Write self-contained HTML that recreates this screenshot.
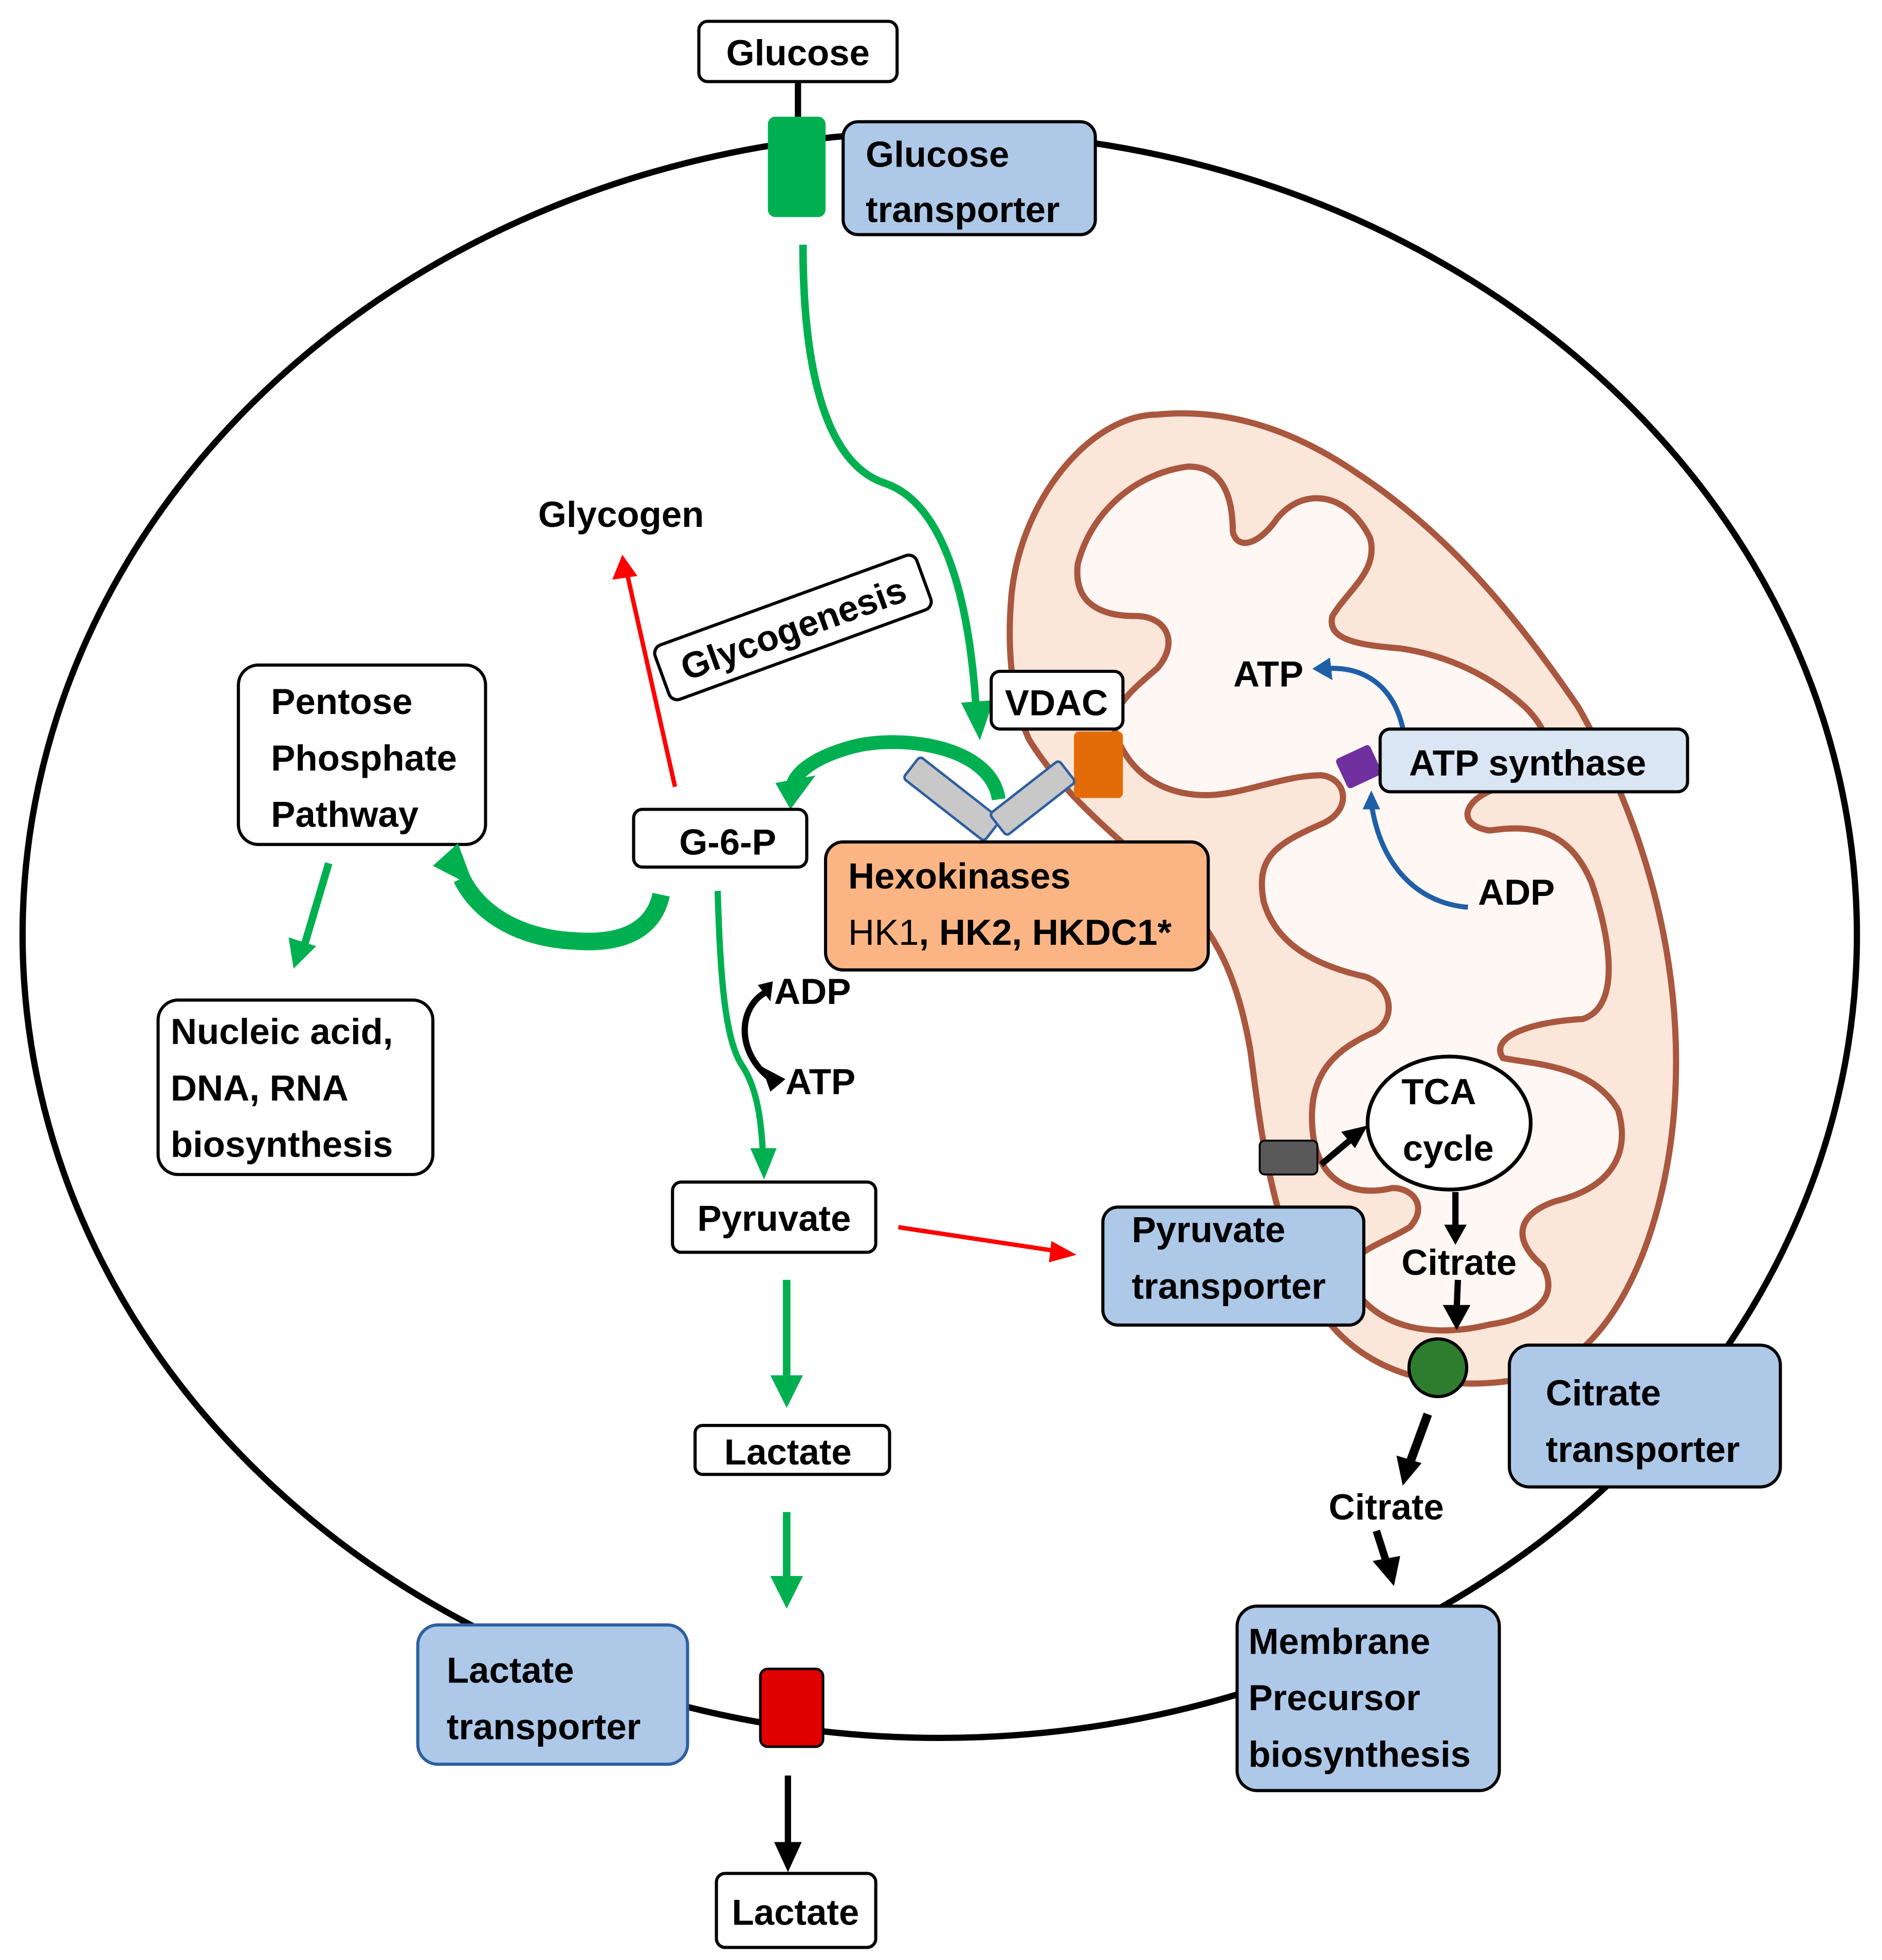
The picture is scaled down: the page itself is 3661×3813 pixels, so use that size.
<!DOCTYPE html>
<html><head><meta charset="utf-8"><style>
html,body{margin:0;padding:0;background:#fff}
svg{display:block}
text{font-family:"Liberation Sans",sans-serif;font-weight:bold;font-size:29px;fill:#000}
</style></head><body>
<svg width="3661" height="3813" viewBox="0 0 1500 1562" preserveAspectRatio="none" xmlns="http://www.w3.org/2000/svg">
<rect width="1500" height="1562" fill="#fff"/>
<!-- cell -->
<ellipse cx="749" cy="745" rx="731" ry="640" fill="none" stroke="#000" stroke-width="5"/>

<!-- mitochondria -->
<g transform="translate(799,320) scale(0.353,0.518)">
<path d="M20,300 C40,150 200,20 350,20 C500,10 650,40 800,110 C1000,200 1150,320 1300,470 C1450,650 1530,850 1520,1050 C1510,1250 1400,1460 1200,1500 C1000,1530 800,1500 700,1380 C600,1250 580,1100 560,1000 C530,880 480,820 400,760 C300,690 150,620 60,520 C20,460 10,380 20,300 Z" fill="#fbe6da" stroke="#a9573f" stroke-width="12" vector-effect="non-scaling-stroke"/>
<path d="M170,250 C200,170 300,110 420,100 C500,100 520,150 520,200 C530,230 580,220 620,180 C680,130 780,140 830,210 C850,260 780,290 745,330 C730,370 820,375 900,380 C1000,390 1100,420 1180,470 C1240,510 1260,560 1150,590 C1050,600 1010,650 1100,660 C1200,650 1280,660 1330,740 C1370,820 1400,930 1310,950 C1180,955 1100,980 1130,1010 C1200,1020 1330,1020 1390,1090 C1420,1160 1370,1210 1250,1230 C1160,1250 1150,1290 1220,1330 C1260,1380 1200,1410 1100,1420 C980,1440 850,1430 790,1360 C760,1310 850,1300 920,1270 C960,1240 930,1210 880,1210 C790,1225 710,1200 700,1120 C690,1040 740,1000 840,970 C890,950 880,900 820,885 C720,870 620,840 590,770 C570,700 620,680 720,650 C790,630 780,580 720,575 C640,575 560,600 480,605 C380,610 290,580 255,510 C240,470 300,440 350,410 C400,370 370,330 300,330 C220,330 160,310 170,250 Z" fill="#fff7f4" stroke="#a9573f" stroke-width="12" vector-effect="non-scaling-stroke"/>
</g>

<!-- glucose -->
<line x1="636" y1="63" x2="636" y2="95" stroke="#000" stroke-width="5"/>
<rect x="557" y="17" width="158" height="48" rx="7" fill="#fff" stroke="#000" stroke-width="2.5"/>
<text x="636" y="52" text-anchor="middle">Glucose</text>
<rect x="612" y="93" width="46" height="80" rx="6" fill="#00b050"/>
<rect x="672" y="97" width="201" height="90" rx="12" fill="#aec8e8" stroke="#000" stroke-width="2.5"/>
<text x="690" y="133">Glucose</text>
<text x="690" y="177">transporter</text>

<!-- green from glucose to VDAC -->
<path d="M640,195 C640,300 660,370 705,385 C750,400 772,470 778,565" fill="none" stroke="#00b050" stroke-width="6"/>
<polygon points="766,560 792,558 781,590" fill="#00b050"/>

<!-- VDAC -->
<rect x="790" y="535" width="105" height="46" rx="7" fill="#fff" stroke="#000" stroke-width="2.5"/>
<text x="842" y="570" text-anchor="middle">VDAC</text>
<rect x="856" y="583" width="39" height="53" rx="4" fill="#e36c09"/>
<g fill="#c8c8c8" stroke="#2e5fa0" stroke-width="2">
<rect x="718" y="625" width="82" height="22" rx="3" transform="rotate(38 758 636)"/>
<rect x="788" y="625" width="70" height="22" rx="3" transform="rotate(-38 823 636)"/>
</g>
<path d="M796,637 C790,595 720,585 680,595 C650,603 635,615 632,625" fill="none" stroke="#00b050" stroke-width="11"/>
<polygon points="618,624 650,618 630,645" fill="#00b050"/>

<!-- Hexokinases -->
<rect x="658" y="671" width="305" height="102" rx="14" fill="#fbb584" stroke="#000" stroke-width="2.5"/>
<text x="676" y="708">Hexokinases</text>
<text x="676" y="753"><tspan font-weight="normal">HK1</tspan>, HK2, HKDC1*</text>

<!-- G-6-P -->
<rect x="505" y="645" width="138" height="46" rx="7" fill="#fff" stroke="#000" stroke-width="2.5"/>
<text x="580" y="681" text-anchor="middle">G-6-P</text>

<!-- glycogen -->
<line x1="538" y1="627" x2="500" y2="458" stroke="#f00" stroke-width="3.5"/>
<polygon points="496,442 488,462 508,459" fill="#f00"/>
<text x="495" y="420" text-anchor="middle">Glycogen</text>
<g transform="rotate(-20 632 500)">
<rect x="521" y="477" width="222" height="46" rx="7" fill="#fff" stroke="#000" stroke-width="2.5"/>
<text x="632" y="511" text-anchor="middle">Glycogenesis</text>
</g>

<!-- Pentose -->
<rect x="190" y="530" width="197" height="143" rx="16" fill="#fff" stroke="#000" stroke-width="2.5"/>
<text x="216" y="569">Pentose</text>
<text x="216" y="614">Phosphate</text>
<text x="216" y="659">Pathway</text>
<path d="M527,713 C520,745 490,752 460,750 C410,748 380,725 368,700" fill="none" stroke="#00b050" stroke-width="14"/>
<polygon points="345,690 365,672 378,707" fill="#00b050"/>
<line x1="262" y1="688" x2="243" y2="752" stroke="#00b050" stroke-width="6"/>
<polygon points="230,747 252,754 234,772" fill="#00b050"/>
<rect x="126" y="797" width="219" height="139" rx="16" fill="#fff" stroke="#000" stroke-width="2.5"/>
<text x="136" y="832">Nucleic acid,</text>
<text x="136" y="877">DNA, RNA</text>
<text x="136" y="922">biosynthesis</text>

<!-- glycolysis -->
<path d="M572,710 C574,780 578,830 592,850 C605,870 607,900 608,918" fill="none" stroke="#00b050" stroke-width="5"/>
<polygon points="598,915 619,915 609,940" fill="#00b050"/>
<path d="M612,790 C590,800 585,835 612,858" fill="none" stroke="#000" stroke-width="5"/>
<polygon points="604,785 616,782 614,798" fill="#000"/>
<polygon points="607,850 626,860 614,870" fill="#000"/>
<text x="617" y="800">ADP</text>
<text x="626" y="872">ATP</text>

<rect x="536" y="942" width="162" height="56" rx="7" fill="#fff" stroke="#000" stroke-width="2.5"/>
<text x="617" y="981" text-anchor="middle">Pyruvate</text>
<line x1="716" y1="978" x2="842" y2="997" stroke="#f00" stroke-width="3.5"/>
<polygon points="858,1000 838,989 836,1006" fill="#f00"/>

<rect x="879" y="962" width="208" height="94" rx="12" fill="#aec8e8" stroke="#000" stroke-width="2.5"/>
<text x="902" y="990">Pyruvate</text>
<text x="902" y="1035">transporter</text>

<line x1="627" y1="1020" x2="627" y2="1098" stroke="#00b050" stroke-width="6"/>
<polygon points="614,1096 640,1096 627,1122" fill="#00b050"/>
<rect x="554" y="1136" width="155" height="39" rx="6" fill="#fff" stroke="#000" stroke-width="2.5"/>
<text x="628" y="1167" text-anchor="middle">Lactate</text>
<line x1="627" y1="1205" x2="627" y2="1258" stroke="#00b050" stroke-width="6"/>
<polygon points="614,1256 640,1256 627,1282" fill="#00b050"/>

<rect x="606" y="1330" width="50" height="62" rx="6" fill="#e00000" stroke="#000" stroke-width="2"/>
<rect x="333" y="1295" width="215" height="111" rx="16" fill="#aec8e8" stroke="#2e5fa0" stroke-width="2.5"/>
<text x="356" y="1341">Lactate</text>
<text x="356" y="1386">transporter</text>
<line x1="628" y1="1415" x2="628" y2="1470" stroke="#000" stroke-width="5"/>
<polygon points="617,1468 639,1468 628,1492" fill="#000"/>
<rect x="571" y="1493" width="127" height="59" rx="7" fill="#fff" stroke="#000" stroke-width="2.5"/>
<text x="634" y="1534" text-anchor="middle">Lactate</text>

<!-- ATP synthase -->
<path d="M1118,580 C1110,545 1085,530 1055,533" fill="none" stroke="#1f5fa8" stroke-width="4"/>
<polygon points="1046,533 1060,524 1062,542" fill="#1f5fa8"/>
<path d="M1170,723 C1130,720 1100,690 1093,640" fill="none" stroke="#1f5fa8" stroke-width="4"/>
<polygon points="1093,630 1086,645 1100,645" fill="#1f5fa8"/>
<text x="983" y="547">ATP</text>
<text x="1178" y="721">ADP</text>
<rect x="1068" y="598" width="30" height="26" rx="3" fill="#7030a0" transform="rotate(-25 1083 611)"/>
<rect x="1100" y="581" width="245" height="50" rx="8" fill="#dbe6f4" stroke="#000" stroke-width="2.5"/>
<text x="1123" y="618">ATP synthase</text>

<!-- TCA -->
<ellipse cx="1155" cy="895" rx="65" ry="53" fill="#fff" stroke="#000" stroke-width="3"/>
<text x="1117" y="880">TCA</text>
<text x="1118" y="925">cycle</text>
<rect x="1004" y="909" width="46" height="27" rx="4" fill="#595959" stroke="#000" stroke-width="1.5"/>
<line x1="1053" y1="928" x2="1078" y2="907" stroke="#000" stroke-width="5"/>
<polygon points="1090,897 1069,902 1080,915" fill="#000"/>
<line x1="1160" y1="950" x2="1160" y2="978" stroke="#000" stroke-width="5"/>
<polygon points="1151,976 1169,976 1160,992" fill="#000"/>
<text x="1117" y="1016">Citrate</text>
<line x1="1162" y1="1020" x2="1161" y2="1043" stroke="#000" stroke-width="5"/>
<polygon points="1150,1040 1172,1040 1161,1060" fill="#000"/>
<circle cx="1146" cy="1090" r="23" fill="#2e7d2e" stroke="#000" stroke-width="2.5"/>
<line x1="1138" y1="1127" x2="1124" y2="1165" stroke="#000" stroke-width="7"/>
<polygon points="1113,1160 1133,1166 1118,1184" fill="#000"/>
<text x="1059" y="1211">Citrate</text>
<line x1="1097" y1="1220" x2="1105" y2="1245" stroke="#000" stroke-width="6"/>
<polygon points="1094,1244 1116,1240 1111,1264" fill="#000"/>
<rect x="1203" y="1072" width="216" height="113" rx="16" fill="#aec8e8" stroke="#000" stroke-width="2.5"/>
<text x="1232" y="1120">Citrate</text>
<text x="1232" y="1165">transporter</text>
<rect x="986" y="1280" width="209" height="147" rx="16" fill="#aec8e8" stroke="#000" stroke-width="2.5"/>
<text x="995" y="1318">Membrane</text>
<text x="995" y="1363">Precursor</text>
<text x="995" y="1408">biosynthesis</text>
</svg>
</body></html>
